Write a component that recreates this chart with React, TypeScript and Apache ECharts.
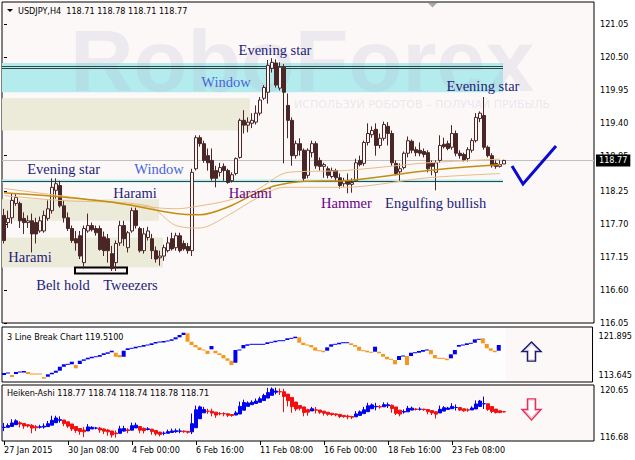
import React, { useEffect, useRef } from 'react';
import * as echarts from 'echarts';

// ---------- main candles (USDJPY H4) ----------
const open = [117.85,117.73,117.81,118.05,118.05,117.80,117.73,117.76,117.73,117.59,117.59,117.80,117.93,118.27,118.35,118.01,117.81,117.63,117.46,117.51,117.06,117.59,117.68,117.63,117.63,117.49,117.46,117.21,117.06,117.39,117.68,117.31,117.59,117.93,117.63,117.26,117.48,117.46,117.26,117.14,117.17,117.26,117.46,117.31,117.51,117.38,117.33,117.26,118.63,119.15,119.05,118.85,118.77,118.60,118.57,118.67,118.60,118.43,118.55,118.82,119.44,119.36,119.39,119.41,119.56,119.81,119.91,120.31,120.40,119.98,120.33,119.69,119.44,118.85,119.05,118.94,118.52,118.90,119.05,118.77,118.67,118.63,118.50,118.60,118.48,118.38,118.43,118.37,118.43,118.77,118.72,119.07,119.20,119.29,119.02,119.14,119.34,119.22,118.72,118.58,118.65,118.89,119.09,118.95,118.94,118.92,118.90,118.72,118.57,118.77,119.04,119.05,118.99,119.22,118.89,118.87,118.80,118.94,119.10,119.47,119.52,118.99,118.85,118.72,118.67,118.71];
const high = [117.96,117.93,118.22,118.22,118.08,117.90,117.85,117.88,117.81,117.83,117.93,118.10,118.47,118.47,118.43,118.10,117.90,117.68,117.59,117.59,117.68,117.88,117.73,117.68,117.68,117.58,117.54,117.34,117.43,117.76,117.76,117.59,117.98,117.98,117.66,117.64,117.66,117.54,117.33,117.26,117.36,117.49,117.56,117.56,117.56,117.43,117.39,118.63,119.19,119.19,119.10,118.97,118.97,118.68,118.73,118.72,118.63,118.57,118.82,119.47,119.61,119.49,119.56,119.69,119.83,120.03,120.45,120.48,120.46,120.41,120.38,119.89,119.49,119.10,119.14,118.97,118.97,119.10,119.09,118.82,118.73,118.67,118.65,118.63,118.55,118.48,118.55,118.47,118.80,118.85,119.10,119.39,119.34,119.39,119.22,119.42,119.41,119.27,118.77,118.72,118.92,119.17,119.12,119.00,119.07,118.97,118.94,118.77,118.77,119.19,119.15,119.10,119.36,119.27,118.94,118.90,118.99,119.14,119.56,119.59,119.83,119.02,118.89,118.77,118.77,118.78];
const low = [117.38,117.64,117.71,118.01,117.64,117.54,117.64,117.23,117.38,117.56,117.56,117.76,117.88,118.13,117.98,117.73,117.59,117.39,117.26,117.12,116.96,117.56,117.58,117.51,117.26,117.17,117.06,116.92,116.92,117.34,117.34,117.23,117.56,117.63,117.23,117.21,117.43,117.12,117.06,117.01,117.09,117.23,117.26,117.26,117.23,117.26,117.21,117.17,118.60,119.00,118.73,118.60,118.43,118.32,118.50,118.43,118.38,118.40,118.52,118.80,119.22,119.24,119.31,119.37,119.52,119.78,119.72,120.24,119.99,119.94,118.72,119.14,118.68,118.80,118.85,118.43,118.47,118.82,118.63,118.60,118.48,118.47,118.47,118.43,118.30,118.33,118.22,118.23,118.43,118.67,118.68,119.02,119.15,118.85,118.97,119.10,119.02,118.68,118.52,118.43,118.62,118.82,118.89,118.84,118.84,118.82,118.57,118.52,118.27,118.73,118.97,118.94,118.95,118.84,118.80,118.75,118.75,118.90,119.07,119.41,118.95,118.82,118.65,118.63,118.65,118.71];
const close = [117.43,117.80,118.10,118.15,117.76,117.73,117.76,117.54,117.54,117.76,117.85,117.96,118.32,118.38,118.01,117.81,117.63,117.43,117.39,117.17,117.63,117.68,117.61,117.56,117.28,117.26,117.26,116.96,117.38,117.68,117.46,117.56,117.93,117.68,117.26,117.54,117.59,117.26,117.12,117.17,117.31,117.39,117.29,117.51,117.26,117.29,117.26,118.57,119.15,119.05,118.77,118.73,118.47,118.47,118.65,118.60,118.40,118.53,118.80,119.44,119.36,119.41,119.44,119.56,119.78,119.99,120.36,120.41,120.03,120.33,119.91,119.44,118.85,119.05,118.94,118.47,118.94,119.05,118.68,118.67,118.70,118.52,118.60,118.48,118.35,118.43,118.37,118.40,118.73,118.70,119.07,119.22,119.27,119.02,119.14,119.37,119.22,118.73,118.55,118.63,118.89,119.10,118.94,118.90,118.89,118.87,118.63,118.67,118.73,119.02,119.00,118.97,119.22,118.89,118.85,118.77,118.95,119.10,119.49,119.56,118.99,118.85,118.68,118.67,118.70,118.77];

// ---------- time axis ----------
const xTickIdx = [0, 16, 32, 48, 64, 80, 96, 112];
const xTickLabels = ['27 Jan 2015', '30 Jan 08:00', '4 Feb 00:00', '6 Feb 16:00', '11 Feb 08:00', '16 Feb 00:00', '18 Feb 16:00', '23 Feb 08:00'];

// ---------- price axes ----------
const mainTicks = ['121.05', '120.50', '119.95', '119.40', '118.85', '118.25', '117.70', '117.15', '116.60', '116.05'];
const lbTicks = ['121.895', '113.645'];
const haTicks = ['120.65', '116.68'];
const lastPrice = 118.77;

// ---------- moving averages (read at sample bars) ----------
const maAIdx = [0, 14, 29, 43, 49, 56, 63, 71, 85, 106, 124];
const maA = [118.30, 118.18, 118.05, 117.96, 118.01, 118.10, 118.27, 118.57, 118.60, 118.73, 118.79];
const maBIdx = [0, 14, 29, 43, 49, 56, 63, 68, 75, 85, 106, 124];
const maB = [118.23, 118.16, 118.05, 117.88, 117.86, 117.99, 118.22, 118.35, 118.42, 118.43, 118.60, 118.70];
const maCIdx = [0, 14, 36, 43, 49, 56, 63, 70, 85, 106, 124];
const maC = [118.18, 118.10, 118.01, 117.68, 117.64, 117.85, 118.13, 118.32, 118.32, 118.48, 118.55];

// ---------- chart objects (zones, levels) ----------
const zoneFrom = [-0.5, -0.5, -0.5, -0.5, -0.5];
const zoneTo = [124.75, 61.5, 124.75, 38.75, 39.75];
const zoneLow = [119.91, 119.27, 118.40, 117.76, 116.98];
const zoneHigh = [120.40, 119.81, 118.45, 118.12, 117.48];
const zoneKind = [0, 1, 0, 1, 1];
const levelVal = [120.35, 120.31, 118.42];
const levelTo = 124.75;
const boxFrom = 17.75, boxTo = 30.75, boxLow = 116.88, boxHigh = 116.98;

// ---------- pattern labels ----------
const noteText = ['Evening star', 'Window', 'Evening star', 'Evening star', 'Window', 'Harami', 'Harami', 'Hammer', 'Engulfing bullish', 'Harami', 'Belt hold', 'Tweezers'];
const noteIdx = [67.75, 55.5, 119.75, 14.9, 38.75, 32.75, 61.6, 85.6, 107.9, 6.5, 14.75, 31.6];
const notePrice = [120.61, 120.09, 120.01, 118.63, 118.62, 118.23, 118.23, 118.06, 118.06, 117.16, 116.68, 116.68];
const noteKind = [0, 1, 0, 0, 1, 0, 2, 2, 0, 0, 0, 0];

// ---------- 3 line break ----------
const lbIdx = [0,2,3,5,6,10,11,12,13,14,15,17,18,19,20,21,22,24,25,26,27,28,29,30,31,33,35,37,38,40,42,43,44,45,46,47,48,49,51,52,53,54,55,56,57,58,60,61,66,68,71,73,74,75,77,78,80,81,82,84,87,88,89,91,93,94,95,96,98,99,101,102,104,105,107,108,111,112,113,114,116,118,120,121,122,123,124];
const lbLo = [113.74,113.33,113.95,114.37,113.95,113.10,113.39,113.89,114.22,114.64,115.48,115.98,115.14,116.04,116.73,117.02,117.36,117.56,117.92,118.28,118.49,117.56,117.44,117.56,118.97,119.32,119.66,120.01,120.37,120.64,120.91,121.20,121.62,122.10,120.70,120.01,119.53,118.97,118.13,119.11,118.28,117.92,117.23,116.73,115.83,116.31,119.32,119.87,120.22,120.64,121.06,121.54,120.49,120.01,119.53,118.82,118.55,118.82,119.66,120.16,120.01,119.66,118.82,118.49,118.61,118.28,117.56,117.02,115.98,116.88,115.83,117.71,118.40,118.61,118.07,117.23,116.94,117.23,118.07,119.66,120.01,120.49,120.37,119.32,118.82,118.61,118.82];
const lbHi = [114.16,113.74,114.37,114.58,114.37,113.30,113.89,114.22,114.64,115.48,115.98,116.52,115.83,116.73,117.02,117.36,117.56,117.92,118.28,118.49,118.82,118.40,117.92,118.82,119.32,119.66,120.01,120.37,120.64,120.85,121.20,121.62,122.10,122.58,122.46,120.70,120.01,119.53,118.82,119.80,118.82,118.28,117.92,117.23,116.73,118.97,120.01,120.16,120.58,120.91,121.41,121.75,121.62,120.49,120.01,119.53,118.82,119.53,120.16,120.49,120.37,120.01,119.66,118.82,119.66,118.61,118.13,117.56,116.88,117.71,117.71,118.40,118.76,118.97,118.97,117.92,117.15,118.07,118.97,120.01,120.37,121.20,121.41,120.22,119.32,118.82,120.01];
const lbDir = [1,-1,1,1,-1,-1,1,1,1,1,1,1,-1,1,1,1,1,1,1,1,1,-1,-1,1,1,1,1,1,1,1,1,1,1,1,-1,-1,-1,-1,-1,1,-1,-1,-1,-1,-1,1,1,1,1,1,1,1,-1,-1,-1,-1,-1,1,1,1,-1,-1,-1,-1,1,-1,-1,-1,-1,1,-1,1,1,1,-1,-1,-1,1,1,1,1,1,-1,-1,-1,-1,1];

const AX_FONT = '"DejaVu Sans Condensed", "DejaVu Sans", sans-serif';
const SERIF = '"Liberation Serif", "DejaVu Serif", serif';
const BG = '#fcf8f8';
const CANDLE = '#4a2626';

export default function App() {
  const ref = useRef<HTMLDivElement>(null);
  useEffect(() => {
    if (!ref.current) return;
    const chart = echarts.init(ref.current, undefined, { renderer: 'svg' });

    const candles = open.map((o, i) => [i, o, close[i], low[i], high[i]]);
    const ha: number[][] = [];
    let po = 0, pc = 0;
    open.forEach((o, i) => {
      const hc = (o + high[i] + low[i] + close[i]) / 4;
      const ho = i === 0 ? (o + close[i]) / 2 : (po + pc) / 2;
      ha.push([i, ho, hc, Math.min(low[i], ho, hc), Math.max(high[i], ho, hc)]);
      po = ho; pc = hc;
    });
    const zones = zoneFrom.map((f, i) => [f, zoneTo[i], zoneLow[i], zoneHigh[i], zoneKind[i]]);
    const notes = noteText.map((_, i) => [noteIdx[i], notePrice[i], i]);
    const lb = lbIdx.map((x, i) => [x, lbLo[i], lbHi[i], lbDir[i], i + 1 < lbIdx.length ? lbIdx[i + 1] : x]);

    const xBase = { type: 'value', min: -0.5, max: 147.5, show: false };
    const noteColors = ['#1e1e78', '#4466dd', '#660088'];
    const zoneColors = ['#b4ecee', '#ecead8'];
    const upArrow = [[531.5, 342], [541, 351.5], [535.5, 351.5], [535.5, 361], [527.5, 361], [527.5, 351.5], [522, 351.5]];
    const upArrowIn = [[531.5, 344.3], [538.5, 350.5], [534.5, 350.5], [534.5, 360], [528.5, 360], [528.5, 350.5], [524.5, 350.5]];
    const dnArrow = [[527.5, 399], [535.5, 399], [535.5, 409.5], [541, 409.5], [531.5, 420], [522, 409.5], [527.5, 409.5]];
    const dnArrowIn = [[528.5, 400], [534.5, 400], [534.5, 410.5], [538.5, 410.5], [531.5, 417.7], [524.5, 410.5], [528.5, 410.5]];

    chart.setOption({
      animation: false,
      grid: [
        { left: 2, top: 2, width: 592, height: 321, show: true, backgroundColor: BG, borderColor: '#000', borderWidth: 1 },
        { left: 2, top: 327, width: 592, height: 55, show: true, backgroundColor: BG, borderColor: '#000', borderWidth: 1 },
        { left: 2, top: 385, width: 592, height: 56, show: true, backgroundColor: BG, borderColor: '#000', borderWidth: 1 },
      ],
      xAxis: [
        { ...xBase, gridIndex: 0 },
        { ...xBase, gridIndex: 1 },
        {
          type: 'value', min: -0.5, max: 147.5, gridIndex: 2,
          axisLine: { show: false }, splitLine: { show: false },
          axisTick: { show: true, customValues: xTickIdx, length: 4, lineStyle: { color: '#000' } },
          axisLabel: {
            customValues: xTickIdx, formatter: (v: number) => xTickLabels[xTickIdx.indexOf(v)] ?? '',
            align: 'left', margin: 4, fontSize: 9, color: '#000', fontFamily: AX_FONT,
          },
        },
      ],
      yAxis: [
        {
          type: 'value', gridIndex: 0, position: 'right', min: 116.05, max: 121.42,
          splitLine: { show: false }, axisLine: { show: false },
          axisTick: { show: true, customValues: mainTicks.map(Number), length: 3, lineStyle: { color: '#000' } },
          axisLabel: { customValues: mainTicks.map(Number), formatter: (v: number) => v.toFixed(2), margin: 6, fontSize: 9, color: '#000', fontFamily: AX_FONT },
        },
        {
          type: 'value', gridIndex: 1, position: 'right', min: 112.286, max: 123.775,
          splitLine: { show: false }, axisLine: { show: false },
          axisTick: { show: true, customValues: lbTicks.map(Number), length: 3, lineStyle: { color: '#000' } },
          axisLabel: { customValues: lbTicks.map(Number), formatter: (v: number) => v.toFixed(3), margin: 6, fontSize: 9, color: '#000', fontFamily: AX_FONT },
        },
        {
          type: 'value', gridIndex: 2, position: 'right', min: 116.68, max: 120.65,
          splitLine: { show: false }, axisLine: { show: false }, axisTick: { show: false },
          axisLabel: { customValues: [Number(haTicks[0])], formatter: (v: number) => v.toFixed(2), verticalAlign: 'top', margin: 6, fontSize: 9, color: '#000', fontFamily: AX_FONT },
        },
        {
          type: 'value', gridIndex: 2, position: 'right', min: 116.68, max: 120.65,
          splitLine: { show: false }, axisLine: { show: false }, axisTick: { show: false },
          axisLabel: { customValues: [Number(haTicks[1])], formatter: (v: number) => v.toFixed(2), verticalAlign: 'bottom', margin: 6, fontSize: 9, color: '#000', fontFamily: AX_FONT },
        },
      ],
      graphic: [
        { type: 'rect', z: 1, silent: true, shape: { x: 3, y: 328, width: 503, height: 53 }, style: { fill: '#fefdfd' } },
        { type: 'text', z: 2, silent: true, x: 70, y: 16, style: { text: 'RoboForex', font: 'bold 88px "Liberation Sans", Arial, sans-serif', fill: 'rgba(175,180,205,0.2)' } },
        { type: 'text', z: 2, silent: true, x: 294, y: 99, style: { text: 'ИСПОЛЬЗУЙ РОБОТОВ – ПОЛУЧАЙ ПРИБЫЛЬ', font: '11px "DejaVu Sans", sans-serif', fill: 'rgba(175,180,205,0.25)' } },
        { type: 'polygon', z: 10, shape: { points: [[7, 9], [13, 9], [10, 12]] }, style: { fill: '#000' } },
        { type: 'polygon', z: 10, shape: { points: [[428, 3], [437, 3], [432.5, 7.5]] }, style: { fill: '#a8a8a8' } },
        { type: 'text', z: 10, x: 18, y: 11, style: { text: 'USDJPY,H4  118.71 118.78 118.71 118.77', font: '9px ' + AX_FONT, fill: '#000', verticalAlign: 'middle' } },
        { type: 'text', z: 10, x: 7, y: 337, style: { text: '3 Line Break Chart 119.5100', font: '9px ' + AX_FONT, fill: '#000', verticalAlign: 'middle' } },
        { type: 'text', z: 10, x: 7, y: 393, style: { text: 'Heiken-Ashi 118.77 118.74 118.74 118.78 118.71', font: '9px ' + AX_FONT, fill: '#000', verticalAlign: 'middle' } },
        { type: 'polyline', z: 10, shape: { points: [[512, 166], [523, 184], [556, 146]] }, style: { stroke: '#0a0ad2', lineWidth: 3, fill: null } },
        { type: 'polygon', z: 10, shape: { points: upArrow }, style: { fill: '#fff', stroke: '#1c1c6c', lineWidth: 1.5 } },
        { type: 'polygon', z: 11, shape: { points: upArrowIn }, style: { fill: 'none', stroke: '#c4b4e4', lineWidth: 1 } },
        { type: 'polygon', z: 10, shape: { points: dnArrow }, style: { fill: '#fff', stroke: '#e8305a', lineWidth: 1.5 } },
        { type: 'polygon', z: 11, shape: { points: dnArrowIn }, style: { fill: 'none', stroke: '#f6b0c0', lineWidth: 1 } },
      ],
      series: [
        {
          type: 'custom', name: 'zones', xAxisIndex: 0, yAxisIndex: 0, z: 1, silent: true,
          data: zones,
          renderItem: (params: any, api: any) => {
            const a = api.coord([api.value(0), api.value(3)]);
            const b = api.coord([api.value(1), api.value(2)]);
            return { type: 'rect', shape: { x: a[0], y: a[1], width: b[0] - a[0], height: b[1] - a[1] }, style: { fill: zoneColors[api.value(4)] } };
          },
          markLine: {
            silent: true, symbol: 'none', animation: false,
            lineStyle: { color: '#c0c0c0', width: 1, type: 'solid' },
            label: { show: true, position: 'end', distance: 2, formatter: () => lastPrice.toFixed(2), backgroundColor: '#000', color: '#fff', padding: [2, 3, 1, 3], fontSize: 9, fontFamily: AX_FONT },
            data: [{ yAxis: lastPrice }],
          },
        },
        {
          type: 'custom', name: 'levels', xAxisIndex: 0, yAxisIndex: 0, z: 3, silent: true,
          data: levelVal.map((v) => [-0.5, levelTo, v]),
          renderItem: (params: any, api: any) => {
            const a = api.coord([api.value(0), api.value(2)]);
            const b = api.coord([api.value(1), api.value(2)]);
            return { type: 'line', shape: { x1: a[0], y1: Math.round(a[1]) + 0.5, x2: b[0], y2: Math.round(b[1]) + 0.5 }, style: { stroke: '#2d4a4a', lineWidth: 1 } };
          },
        },
        {
          type: 'custom', name: 'box', xAxisIndex: 0, yAxisIndex: 0, z: 3, silent: true,
          data: [[boxFrom, boxTo, boxLow, boxHigh]],
          renderItem: (params: any, api: any) => {
            const a = api.coord([api.value(0), api.value(3)]);
            const b = api.coord([api.value(1), api.value(2)]);
            return { type: 'rect', shape: { x: a[0], y: a[1], width: b[0] - a[0], height: b[1] - a[1] }, style: { fill: 'none', stroke: '#000', lineWidth: 2 } };
          },
        },
        {
          type: 'candlestick', name: 'USDJPY', xAxisIndex: 0, yAxisIndex: 0, z: 5,
          data: candles, encode: { x: 0, y: [1, 2, 3, 4] }, barWidth: 3,
          itemStyle: { color: BG, color0: CANDLE, borderColor: CANDLE, borderColor0: CANDLE, borderWidth: 1 },
        },
        { type: 'line', xAxisIndex: 0, yAxisIndex: 0, z: 6, symbol: 'none', smooth: 0.3, data: maCIdx.map((x, i) => [x, maC[i]]), lineStyle: { color: '#e6bb86', width: 1 } },
        { type: 'line', xAxisIndex: 0, yAxisIndex: 0, z: 6, symbol: 'none', smooth: 0.3, data: maAIdx.map((x, i) => [x, maA[i]]), lineStyle: { color: '#e6bb86', width: 1 } },
        { type: 'line', xAxisIndex: 0, yAxisIndex: 0, z: 6, symbol: 'none', smooth: 0.3, data: maBIdx.map((x, i) => [x, maB[i]]), lineStyle: { color: '#c48d10', width: 1.5 } },
        {
          type: 'custom', name: 'notes', xAxisIndex: 0, yAxisIndex: 0, z: 8, silent: true,
          data: notes,
          renderItem: (params: any, api: any) => {
            const p = api.coord([api.value(0), api.value(1)]);
            const k = api.value(2);
            return { type: 'text', x: p[0], y: p[1], style: { text: noteText[k], fill: noteColors[noteKind[k]], font: '14.5px ' + SERIF, align: 'center', verticalAlign: 'middle' } };
          },
        },
        {
          type: 'custom', name: '3 Line Break', xAxisIndex: 1, yAxisIndex: 1, z: 5, silent: true,
          data: lb,
          renderItem: (params: any, api: any) => {
            const x = api.value(0), lo = api.value(1), hi = api.value(2), dir = api.value(3), nx = api.value(4);
            const col = dir > 0 ? '#0000f0' : '#f7961e';
            const top = api.coord([x, hi]);
            const bot = api.coord([x, lo]);
            const w = api.size([1, 0])[0];
            const children: any[] = [{ type: 'rect', shape: { x: top[0] - w / 2, y: top[1], width: w, height: Math.max(1.5, bot[1] - top[1]) }, style: { fill: col } }];
            if (nx > x + 1) {
              const lvl = dir > 0 ? hi : lo;
              const a = api.coord([x, lvl]);
              const b = api.coord([nx, lvl]);
              children.push({ type: 'line', shape: { x1: a[0] + w / 2, y1: a[1], x2: b[0] - w / 2, y2: b[1] }, style: { stroke: col, lineWidth: 1 } });
            }
            return { type: 'group', children };
          },
        },
        {
          type: 'candlestick', name: 'Heiken-Ashi', xAxisIndex: 2, yAxisIndex: 2, z: 5,
          data: ha, encode: { x: 0, y: [1, 2, 3, 4] }, barWidth: 3,
          itemStyle: { color: '#0000f0', color0: '#f01010', borderColor: '#0000f0', borderColor0: '#f01010', borderWidth: 1 },
        },
      ],
    });
    return () => chart.dispose();
  }, []);
  return <div ref={ref} style={{ position: 'absolute', left: 0, top: 0, width: 635, height: 460, background: '#fff' }} />;
}
